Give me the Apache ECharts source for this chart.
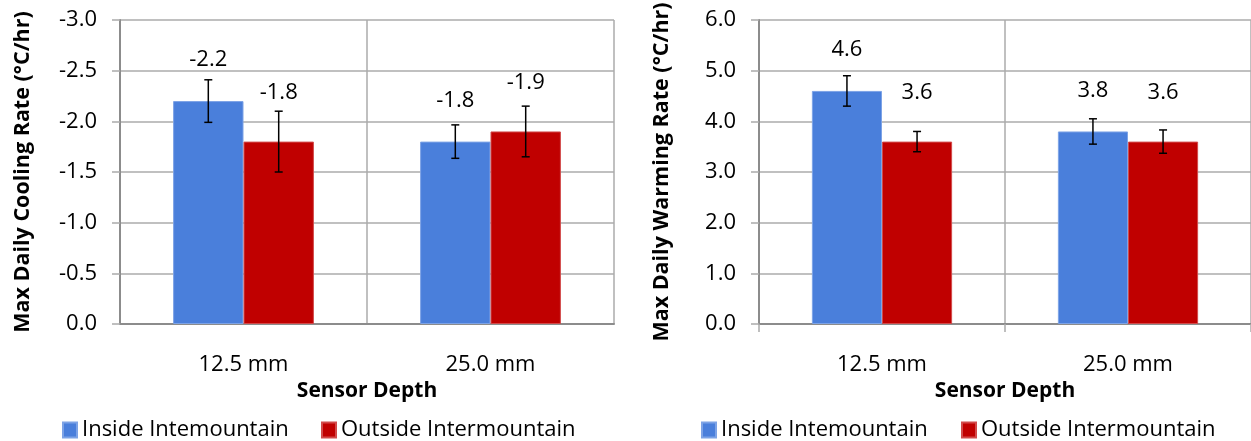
<!DOCTYPE html>
<html>
<head>
<meta charset="utf-8">
<style>
  html, body { margin: 0; padding: 0; background: #fff; }
  #chart { width: 1251px; height: 441px; }
</style>
<script src="https://cdn.jsdelivr.net/npm/echarts@6/dist/echarts.min.js"></script>
</head>
<body>
<div id="chart"></div>
<script>
// Sensor depths on the category axis
const categories = ['12.5 mm', '25.0 mm'];
const seriesNames = ['Inside Intemountain', 'Outside Intermountain'];

// Max daily cooling rate (°C/hr) and its error (±)
const coolingInside = [-2.2, -1.8];
const coolingOutside = [-1.8, -1.9];
const coolingInsideErr = [0.21, 0.165];
const coolingOutsideErr = [0.3, 0.25];

// Max daily warming rate (°C/hr) and its error (±)
const warmingInside = [4.6, 3.8];
const warmingOutside = [3.6, 3.6];
const warmingInsideErr = [0.3, 0.25];
const warmingOutsideErr = [0.2, 0.23];

const FONT = 'Open Sans';
const BLUE = '#4a7fdb';
const RED = '#c00000';
const GRID_LINE = '#ababab';
const AXIS_LINE = '#8c8c8c';
const CAT_GAP = 0.43;

function errorSeries(values, errs, side, xi, yi) {
  return {
    type: 'custom',
    xAxisIndex: xi,
    yAxisIndex: yi,
    z: 5,
    silent: true,
    data: values.map((v, i) => [i, v, errs[i]]),
    encode: { x: 0, y: 1 },
    renderItem: function (params, api) {
      const ci = api.value(0), v = api.value(1), e = api.value(2);
      const band = api.size([1, 0])[0];
      const barW = band * (1 - CAT_GAP) / 2;
      const hi = api.coord([ci, v + e]);
      const lo = api.coord([ci, v - e]);
      const x = hi[0] + side * barW / 2;
      const cap = 4;
      const style = { stroke: '#000', lineWidth: 1.5 };
      return {
        type: 'group',
        children: [
          { type: 'line', shape: { x1: x, y1: hi[1], x2: x, y2: lo[1] }, style: style },
          { type: 'line', shape: { x1: x - cap, y1: hi[1], x2: x + cap, y2: hi[1] }, style: style },
          { type: 'line', shape: { x1: x - cap, y1: lo[1], x2: x + cap, y2: lo[1] }, style: style }
        ]
      };
    }
  };
}

function barSeries(name, values, color, border, labelDist, xi, yi) {
  return {
    name: name,
    type: 'bar',
    xAxisIndex: xi,
    yAxisIndex: yi,
    data: values,
    barGap: '0%',
    barCategoryGap: (CAT_GAP * 100) + '%',
    itemStyle: { color: color, borderColor: border, borderWidth: 1 },
    label: {
      show: true,
      position: 'top',
      distance: labelDist,
      formatter: p => p.value.toFixed(1),
      fontFamily: FONT,
      fontSize: 22,
      color: '#000'
    }
  };
}

function xAxis(gi, showTicks) {
  return {
    type: 'category',
    gridIndex: gi,
    data: categories,
    axisLine: { show: true, lineStyle: { color: AXIS_LINE, width: 2 } },
    axisTick: { show: showTicks, length: 8, lineStyle: { color: GRID_LINE, width: 1.5 } },
    splitLine: { show: true, lineStyle: { color: GRID_LINE, width: 1.5 } },
    axisLabel: { margin: 30, fontFamily: FONT, fontSize: 22, color: '#000' },
    name: 'Sensor Depth',
    nameLocation: 'middle',
    nameGap: 54,
    nameTextStyle: { fontFamily: FONT, fontSize: 21, fontWeight: 'bold', color: '#000' }
  };
}

function yAxis(gi, name, min, max, interval, inverse) {
  return {
    type: 'value',
    gridIndex: gi,
    min: min,
    max: max,
    interval: interval,
    inverse: inverse,
    axisLine: { show: true, lineStyle: { color: AXIS_LINE, width: 2 } },
    axisTick: { show: true, length: 8, lineStyle: { color: GRID_LINE, width: 1.5 } },
    splitLine: { show: true, lineStyle: { color: GRID_LINE, width: 1.5 } },
    axisLabel: {
      margin: 23,
      fontFamily: FONT,
      fontSize: 22,
      color: '#000',
      formatter: v => (Math.abs(v) < 1e-9 ? 0 : v).toFixed(1)
    },
    name: name,
    nameLocation: 'middle',
    nameGap: 86,
    nameTextStyle: { fontFamily: FONT, fontSize: 21.5, fontWeight: 'bold', color: '#000' }
  };
}

function legend(left, name) {
  return {
    left: left,
    top: 419,
    padding: 0,
    itemWidth: 14,
    itemHeight: 15,
    icon: 'rect',
    selectedMode: false,
    data: [name],
    textStyle: { fontFamily: FONT, fontSize: 22, color: '#000' }
  };
}

const chart = echarts.init(document.getElementById('chart'), null, { renderer: 'canvas' });

chart.setOption({
  animation: false,
  backgroundColor: '#fff',
  grid: [
    { left: 120, top: 20, width: 494, height: 304 },
    { left: 759, top: 20, width: 494, height: 304 }
  ],
  xAxis: [xAxis(0, false), xAxis(1, true)],
  yAxis: [
    yAxis(0, 'Max Daily Cooling Rate (°C/hr)', -3, 0, 0.5, true),
    yAxis(1, 'Max Daily Warming Rate (°C/hr)', 0, 6, 1, false)
  ],
  legend: [
    legend(62, seriesNames[0]),
    legend(321, seriesNames[1]),
    legend(701, seriesNames[0]),
    legend(961, seriesNames[1])
  ],
  series: [
    barSeries(seriesNames[0], coolingInside, BLUE, '#7da3e6', 30, 0, 0),
    barSeries(seriesNames[1], coolingOutside, RED, '#d24a4a', 38, 0, 0),
    errorSeries(coolingInside, coolingInsideErr, -1, 0, 0),
    errorSeries(coolingOutside, coolingOutsideErr, 1, 0, 0),
    barSeries(seriesNames[0], warmingInside, BLUE, '#7da3e6', 30, 1, 1),
    barSeries(seriesNames[1], warmingOutside, RED, '#d24a4a', 38, 1, 1),
    errorSeries(warmingInside, warmingInsideErr, -1, 1, 1),
    errorSeries(warmingOutside, warmingOutsideErr, 1, 1, 1)
  ]
});
</script>
</body>
</html>
